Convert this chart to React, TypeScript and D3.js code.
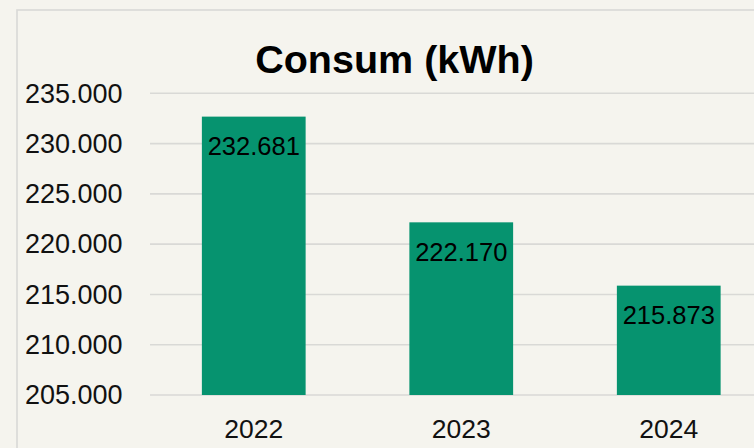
import React from "react";
import * as d3 from "d3";

const categories = ["2022", "2023", "2024"];
const values = [232681, 222170, 215873];
const yTicks = [205000, 210000, 215000, 220000, 225000, 230000, 235000];
const title = "Consum (kWh)";

const W = 754;
const H = 448;

const locale = d3.formatLocale({ decimal: ",", thousands: ".", grouping: [3], currency: ["", ""] });
const fmt = locale.format(",d");

export default function App() {
  const y = d3.scaleLinear().domain([205000, 235000]).range([395, 93.3]);
  const x = d3
    .scaleBand<string>()
    .domain(categories)
    .range([150, 772.5])
    .paddingInner(0.5)
    .paddingOuter(0.25);
  const font = "'Liberation Sans', Arial, Helvetica, sans-serif";
  return (
    <svg
      width={W}
      height={H}
      style={{ position: "fixed", left: 0, top: 0, display: "block" }}
      fontFamily={font}
    >
      <rect x={0} y={0} width={W} height={H} fill="#f5f4ee" />
      <rect x={17} y={10} width={W + 40} height={H + 40} fill="none" stroke="#d9d9d6" strokeWidth={1.6} />
      <text x={394.5} y={72.5} textAnchor="middle" fontSize={39.5} fontWeight="bold" fill="#000">
        {title}
      </text>
      {yTicks.map((t) => (
        <g key={t}>
          <line x1={150} x2={W} y1={y(t)} y2={y(t)} stroke="#d9d9d6" strokeWidth={1.6} />
          <text x={122.5} y={y(t) + 9.3} textAnchor="end" fontSize={27} fill="#111">
            {fmt(t)}
          </text>
        </g>
      ))}
      {categories.map((c, i) => {
        const x0 = x(c) as number;
        const bw = x.bandwidth();
        const top = y(values[i]);
        return (
          <g key={c}>
            <rect x={x0} y={top} width={bw} height={y(205000) - top} fill="#06936f" />
            <text x={x0 + bw / 2} y={top + 38.5} textAnchor="middle" fontSize={25.5} fill="#000">
              {fmt(values[i])}
            </text>
            <text x={x0 + bw / 2} y={438} textAnchor="middle" fontSize={26.5} fill="#111">
              {c}
            </text>
          </g>
        );
      })}
    </svg>
  );
}
